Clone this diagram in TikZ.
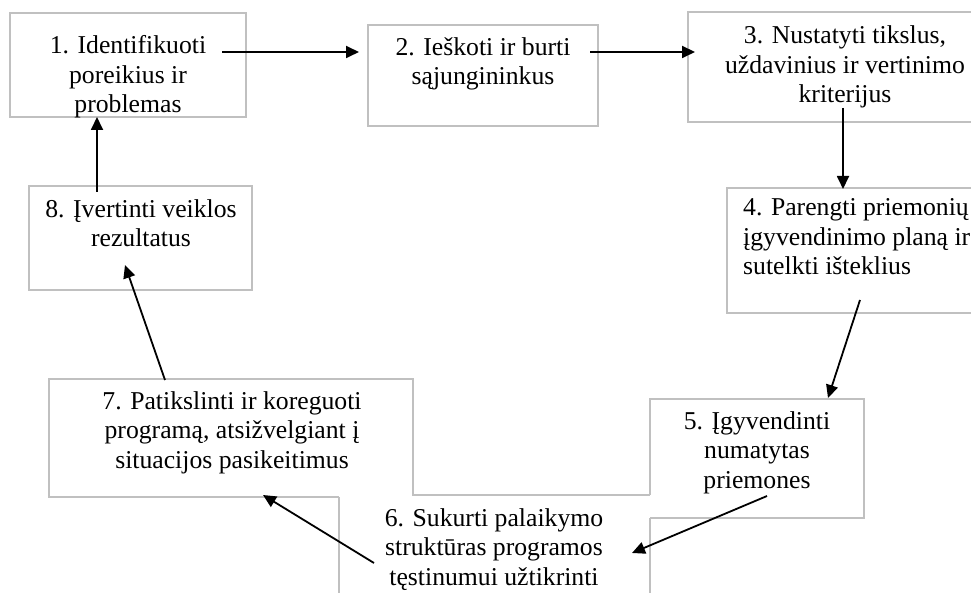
\documentclass[tikz,border=0pt]{standalone}
\usepackage{fontspec}
\setmainfont{Liberation Serif}
\usetikzlibrary{arrows.meta}
\definecolor{boxgray}{RGB}{192,192,192}
\begin{document}
\begin{tikzpicture}[x=1pt,y=-1pt,
  frame/.style={draw=boxgray, line width=1.1pt},
  steptext/.style={font=\fontsize{25.7}{29.5}\selectfont, align=center, inner sep=0pt, anchor=base},
  flow/.style={line width=1.8pt, -{Triangle[length=13pt,width=12pt]}}]
\useasboundingbox (0,0) rectangle (971,593);
\clip (0,0) rectangle (971,593);

% box outlines
\draw[frame] (10,13) rectangle (246,117);
\draw[frame] (368,25) rectangle (598,126);
\draw[frame] (688,12) rectangle (1000,122);
\draw[frame] (727,188) rectangle (1000,313);
\draw[frame] (29,186) rectangle (252,290);
\draw[frame] (650,495) -- (650,399) -- (864,399) -- (864,518) -- (650,518);
\draw[frame] (339,497) -- (49,497) -- (49,379) -- (413,379) -- (413,495) -- (650,495);
\draw[frame] (339,497) -- (339,600);
\draw[frame] (650,518) -- (650,600);

% step texts (anchored at the baseline of the last line)
\node[steptext] (t1) at (128,113) {1. Identifikuoti\\poreikius ir\\problemas};
\node[steptext] (t2) at (483,85) {2. Ieškoti ir burti\\sąjungininkus};
\node[steptext] (t3) at (845,103) {3. Nustatyti tikslus,\\uždavinius ir vertinimo\\kriterijus};
\node[steptext, align=left, anchor=base west] (t4) at (743,275) {4. Parengti priemonių\\įgyvendinimo planą ir\\sutelkti išteklius};
\node[steptext] (t5) at (757,488) {5. Įgyvendinti\\numatytas\\priemones};
\node[steptext] (t6) at (494,585) {6. Sukurti palaikymo\\struktūras programos\\tęstinumui užtikrinti};
\node[steptext] (t7) at (232,468) {7. Patikslinti ir koreguoti\\programą, atsižvelgiant į\\situacijos pasikeitimus};
\node[steptext] (t8) at (141,247) {8. Įvertinti veiklos\\rezultatus};

% connector ends
\coordinate (a1s) at (222,52);  \coordinate (a1e) at (359,52);
\coordinate (a2s) at (590,52);  \coordinate (a2e) at (695,52);
\coordinate (a3s) at (843,108); \coordinate (a3e) at (843,189);
\coordinate (a4s) at (860,300); \coordinate (a4e) at (828,398);
\coordinate (a5s) at (767,496); \coordinate (a5e) at (632,553);
\coordinate (a6s) at (374,563); \coordinate (a6e) at (263,495);
\coordinate (a7s) at (165,380); \coordinate (a7e) at (125,265);
\coordinate (a8s) at (97,192);  \coordinate (a8e) at (97,117);

\draw[flow] (a1s) -- (a1e);
\draw[flow] (a2s) -- (a2e);
\draw[flow] (a3s) -- (a3e);
\draw[flow] (a4s) -- (a4e);
\draw[flow] (a5s) -- (a5e);
\draw[flow] (a6s) -- (a6e);
\draw[flow] (a7s) -- (a7e);
\draw[flow] (a8s) -- (a8e);
\end{tikzpicture}
\end{document}
